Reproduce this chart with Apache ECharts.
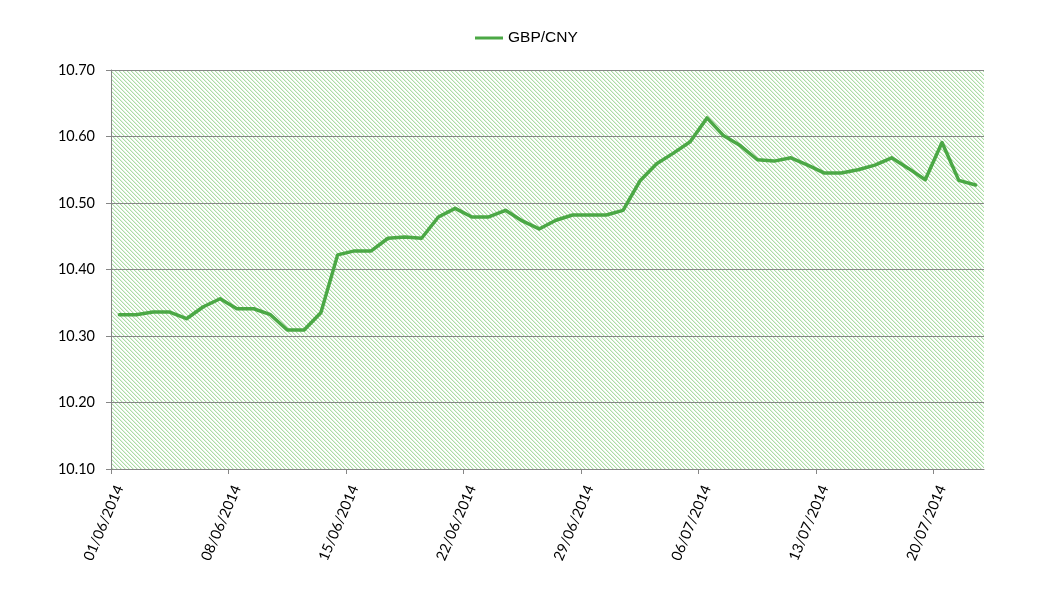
<!DOCTYPE html>
<html>
<head>
<meta charset="utf-8">
<script src="https://cdn.jsdelivr.net/npm/echarts@6/dist/echarts.min.js"></script>
<style>html,body{margin:0;padding:0;background:#fff;}#c{width:1056px;height:599px;}</style>
</head>
<body>
<div id="c"></div>
<script>
const seriesName = 'GBP/CNY';
const days = [
 '01/06/2014','02/06/2014','03/06/2014','04/06/2014','05/06/2014','06/06/2014','07/06/2014',
 '08/06/2014','09/06/2014','10/06/2014','11/06/2014','12/06/2014','13/06/2014','14/06/2014',
 '15/06/2014','16/06/2014','17/06/2014','18/06/2014','19/06/2014','20/06/2014','21/06/2014',
 '22/06/2014','23/06/2014','24/06/2014','25/06/2014','26/06/2014','27/06/2014','28/06/2014',
 '29/06/2014','30/06/2014','01/07/2014','02/07/2014','03/07/2014','04/07/2014','05/07/2014',
 '06/07/2014','07/07/2014','08/07/2014','09/07/2014','10/07/2014','11/07/2014','12/07/2014',
 '13/07/2014','14/07/2014','15/07/2014','16/07/2014','17/07/2014','18/07/2014','19/07/2014',
 '20/07/2014','21/07/2014','22/07/2014'
];
const rates = [
 10.332,10.332,10.336,10.336,10.326,10.344,10.356,10.341,10.341,10.332,
 10.309,10.309,10.335,10.422,10.428,10.428,10.447,10.449,10.447,10.479,
 10.492,10.479,10.479,10.489,10.473,10.461,10.474,10.482,10.482,10.482,
 10.489,10.533,10.559,10.575,10.592,10.628,10.601,10.586,10.565,10.563,
 10.568,10.557,10.545,10.545,10.550,10.557,10.568,10.552,10.535,10.591,
 10.534,10.527
];
const tickLabels = ['01/06/2014','08/06/2014','15/06/2014','22/06/2014','29/06/2014','06/07/2014','13/07/2014','20/07/2014'];
const yTicks = [10.10,10.20,10.30,10.40,10.50,10.60,10.70];

// hatch pattern
const pc = document.createElement('canvas');
pc.width = 4; pc.height = 4;
const pctx = pc.getContext('2d');
pctx.fillStyle = '#ffffff'; pctx.fillRect(0,0,4,4);
for (let y = 0; y < 4; y++) for (let x = 0; x < 4; x++) {
  const m = ((x - y) % 4 + 4) % 4;
  if (m === 0) { pctx.fillStyle = 'rgb(172,221,166)'; pctx.fillRect(x,y,1,1); }
  else if (m === 1) { pctx.fillStyle = 'rgb(226,243,223)'; pctx.fillRect(x,y,1,1); }
}

const tickIdx = tickLabels.map(t => days.indexOf(t));
const labelPos = tickIdx.map(i => i + 0.5);

const chart = echarts.init(document.getElementById('c'), null, {renderer: 'canvas'});
chart.setOption({
  animation: false,
  legend: {
    left: 470, top: 25, padding: 5,
    icon: 'rect', itemWidth: 28, itemHeight: 3, itemGap: 10,
    textStyle: {fontFamily: 'Liberation Sans', fontSize: 15.5, color: '#000'},
    data: [seriesName]
  },
  grid: {
    left: 111, right: 72, top: 70, bottom: 130,
    show: true, borderWidth: 0,
    backgroundColor: {image: pc, repeat: 'repeat'}
  },
  xAxis: {
    type: 'value', min: 0, max: days.length,
    splitLine: {show: false},
    axisLine: {show: true, lineStyle: {color: '#868686', width: 1}},
    axisTick: {show: true, length: 5, lineStyle: {color: '#868686'}, customValues: tickIdx},
    axisLabel: {
      customValues: labelPos,
      formatter: v => days[Math.floor(v)],
      rotate: 67, margin: 17,
      fontFamily: 'Lato', fontSize: 14.5, color: '#000'
    }
  },
  yAxis: {
    type: 'value', min: yTicks[0], max: yTicks[yTicks.length-1], interval: 0.1,
    axisLine: {show: true, lineStyle: {color: '#868686', width: 1}},
    axisTick: {show: true, length: 5, lineStyle: {color: '#868686'}},
    splitLine: {show: true, lineStyle: {color: '#868686', width: 1}},
    axisLabel: {
      formatter: v => v.toFixed(2), margin: 16,
      fontFamily: 'Lato', fontSize: 14.5, color: '#000'
    }
  },
  series: [{
    name: seriesName, type: 'line',
    data: rates.map((v, i) => [i + 0.5, v]),
    symbol: 'none', smooth: false,
    lineStyle: {color: '#4BA845', width: 3.5, cap: 'round', join: 'round'},
    itemStyle: {color: '#4BA845'}
  }]
});
</script>
</body>
</html>
